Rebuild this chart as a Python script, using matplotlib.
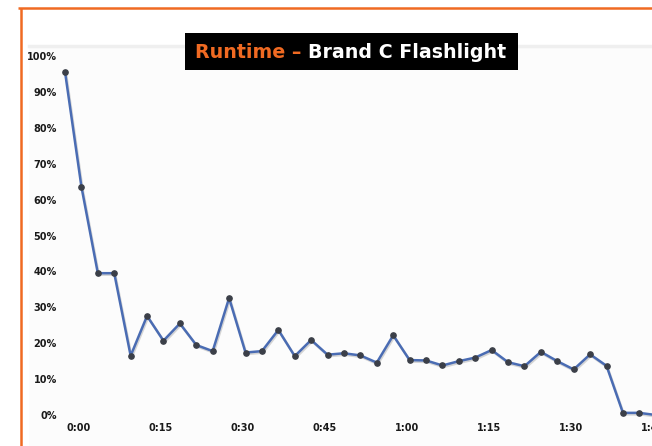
import matplotlib.pyplot as plt
import matplotlib.transforms as mtransforms
from matplotlib.patches import Rectangle
from matplotlib.lines import Line2D
from matplotlib.text import Annotation

# remaining output, read every 3 minutes
minutes = [3 * i for i in range(37)]
output_pct = [95.6, 63.6, 39.5, 39.5, 16.5, 27.6, 20.7, 25.5, 19.5, 17.8,
              32.6, 17.4, 17.8, 23.7, 16.4, 20.9, 16.8, 17.2, 16.6, 14.6,
              22.2, 15.3, 15.2, 13.8, 15.0, 16.0, 18.1, 14.7, 13.6, 17.6,
              15.0, 12.7, 16.9, 13.7, 0.6, 0.6, 0.0]

time_labels = ["0:00", "0:15", "0:30", "0:45", "1:00", "1:15", "1:30", "1:45"]
time_ticks = [15 * i for i in range(len(time_labels))]
pct_ticks = list(range(0, 101, 10))

ORANGE = "#f06a22"
LINE_BLUE = "#4a6cb3"
MARKER = "#3b3f48"
TEXT = "#1a1a1a"

W, H = 652, 446
fig = plt.figure(figsize=(W / 100, H / 100), dpi=100)
fig.patch.set_facecolor("white")

# faint panel behind the plot
fig.patches.append(Rectangle((29 / W, 0), 1, 1 - 46 / H, transform=fig.transFigure,
                             facecolor="#fcfcfc", edgecolor="none", zorder=-2))
fig.lines.append(Line2D([29 / W, 1], [1 - 46 / H] * 2, transform=fig.transFigure,
                        color="#efefef", linewidth=2.5, zorder=-1))

# orange frame, top and left
fig.lines.append(Line2D([18 / W, 1], [1 - 8 / H] * 2, transform=fig.transFigure,
                        color=ORANGE, linewidth=1.8, solid_capstyle="butt"))
fig.lines.append(Line2D([21 / W] * 2, [0, 1 - 7.5 / H], transform=fig.transFigure,
                        color=ORANGE, linewidth=1.8, solid_capstyle="butt"))

ax = fig.add_axes([56.8 / W, (H - 422.2) / H, (666.7 - 56.8) / W, (422.2 - 48.8) / H])
ax.set_facecolor("none")
ax.set_xlim(-1.5, 110)
ax.set_ylim(-2, 102)

# soft shadow under the line
shadow = ax.transData + mtransforms.ScaledTranslation(1 / 100, -1.5 / 100, fig.dpi_scale_trans)
ax.plot(minutes, output_pct, color="#c4c4c4", linewidth=1.8, alpha=0.7,
        transform=shadow, clip_on=False, zorder=2)
ax.plot(minutes, output_pct, color=LINE_BLUE, linewidth=1.8, marker="o",
        markersize=3.8, markerfacecolor=MARKER, markeredgecolor=MARKER,
        clip_on=False, zorder=3)

# time labels sit a little right of the samples
label_shift = 2.5
ax.set_xticks([t + label_shift for t in time_ticks])
ax.set_xticklabels(time_labels)
ax.set_yticks(pct_ticks)
ax.set_yticklabels([f"{p}%" for p in pct_ticks])
ax.tick_params(length=0, labelsize=7, colors=TEXT)
ax.tick_params(axis="y", pad=0)
ax.tick_params(axis="x", pad=0.5)
for lbl in ax.get_xticklabels() + ax.get_yticklabels():
    lbl.set_fontweight("bold")
for s in ax.spines.values():
    s.set_visible(False)

# title block
fig.patches.append(Rectangle((185 / W, 1 - 70 / H), 333 / W, 37 / H,
                             transform=fig.transFigure, facecolor="black",
                             edgecolor="none", zorder=5))
t1 = fig.text(195 / W, 1 - 57.7 / H, "Runtime –", color=ORANGE, fontsize=13.7,
              fontweight="bold", family="DejaVu Sans", va="baseline", ha="left", zorder=6)
fig.add_artist(Annotation("Brand C Flashlight", xy=(1, 0), xycoords=t1, xytext=(5, 0),
                          textcoords="offset points", color="white", fontsize=13.7,
                          fontweight="bold", family="DejaVu Sans", va="bottom", ha="left",
                          annotation_clip=False, zorder=6))

fig.savefig("out.png", dpi=100)
